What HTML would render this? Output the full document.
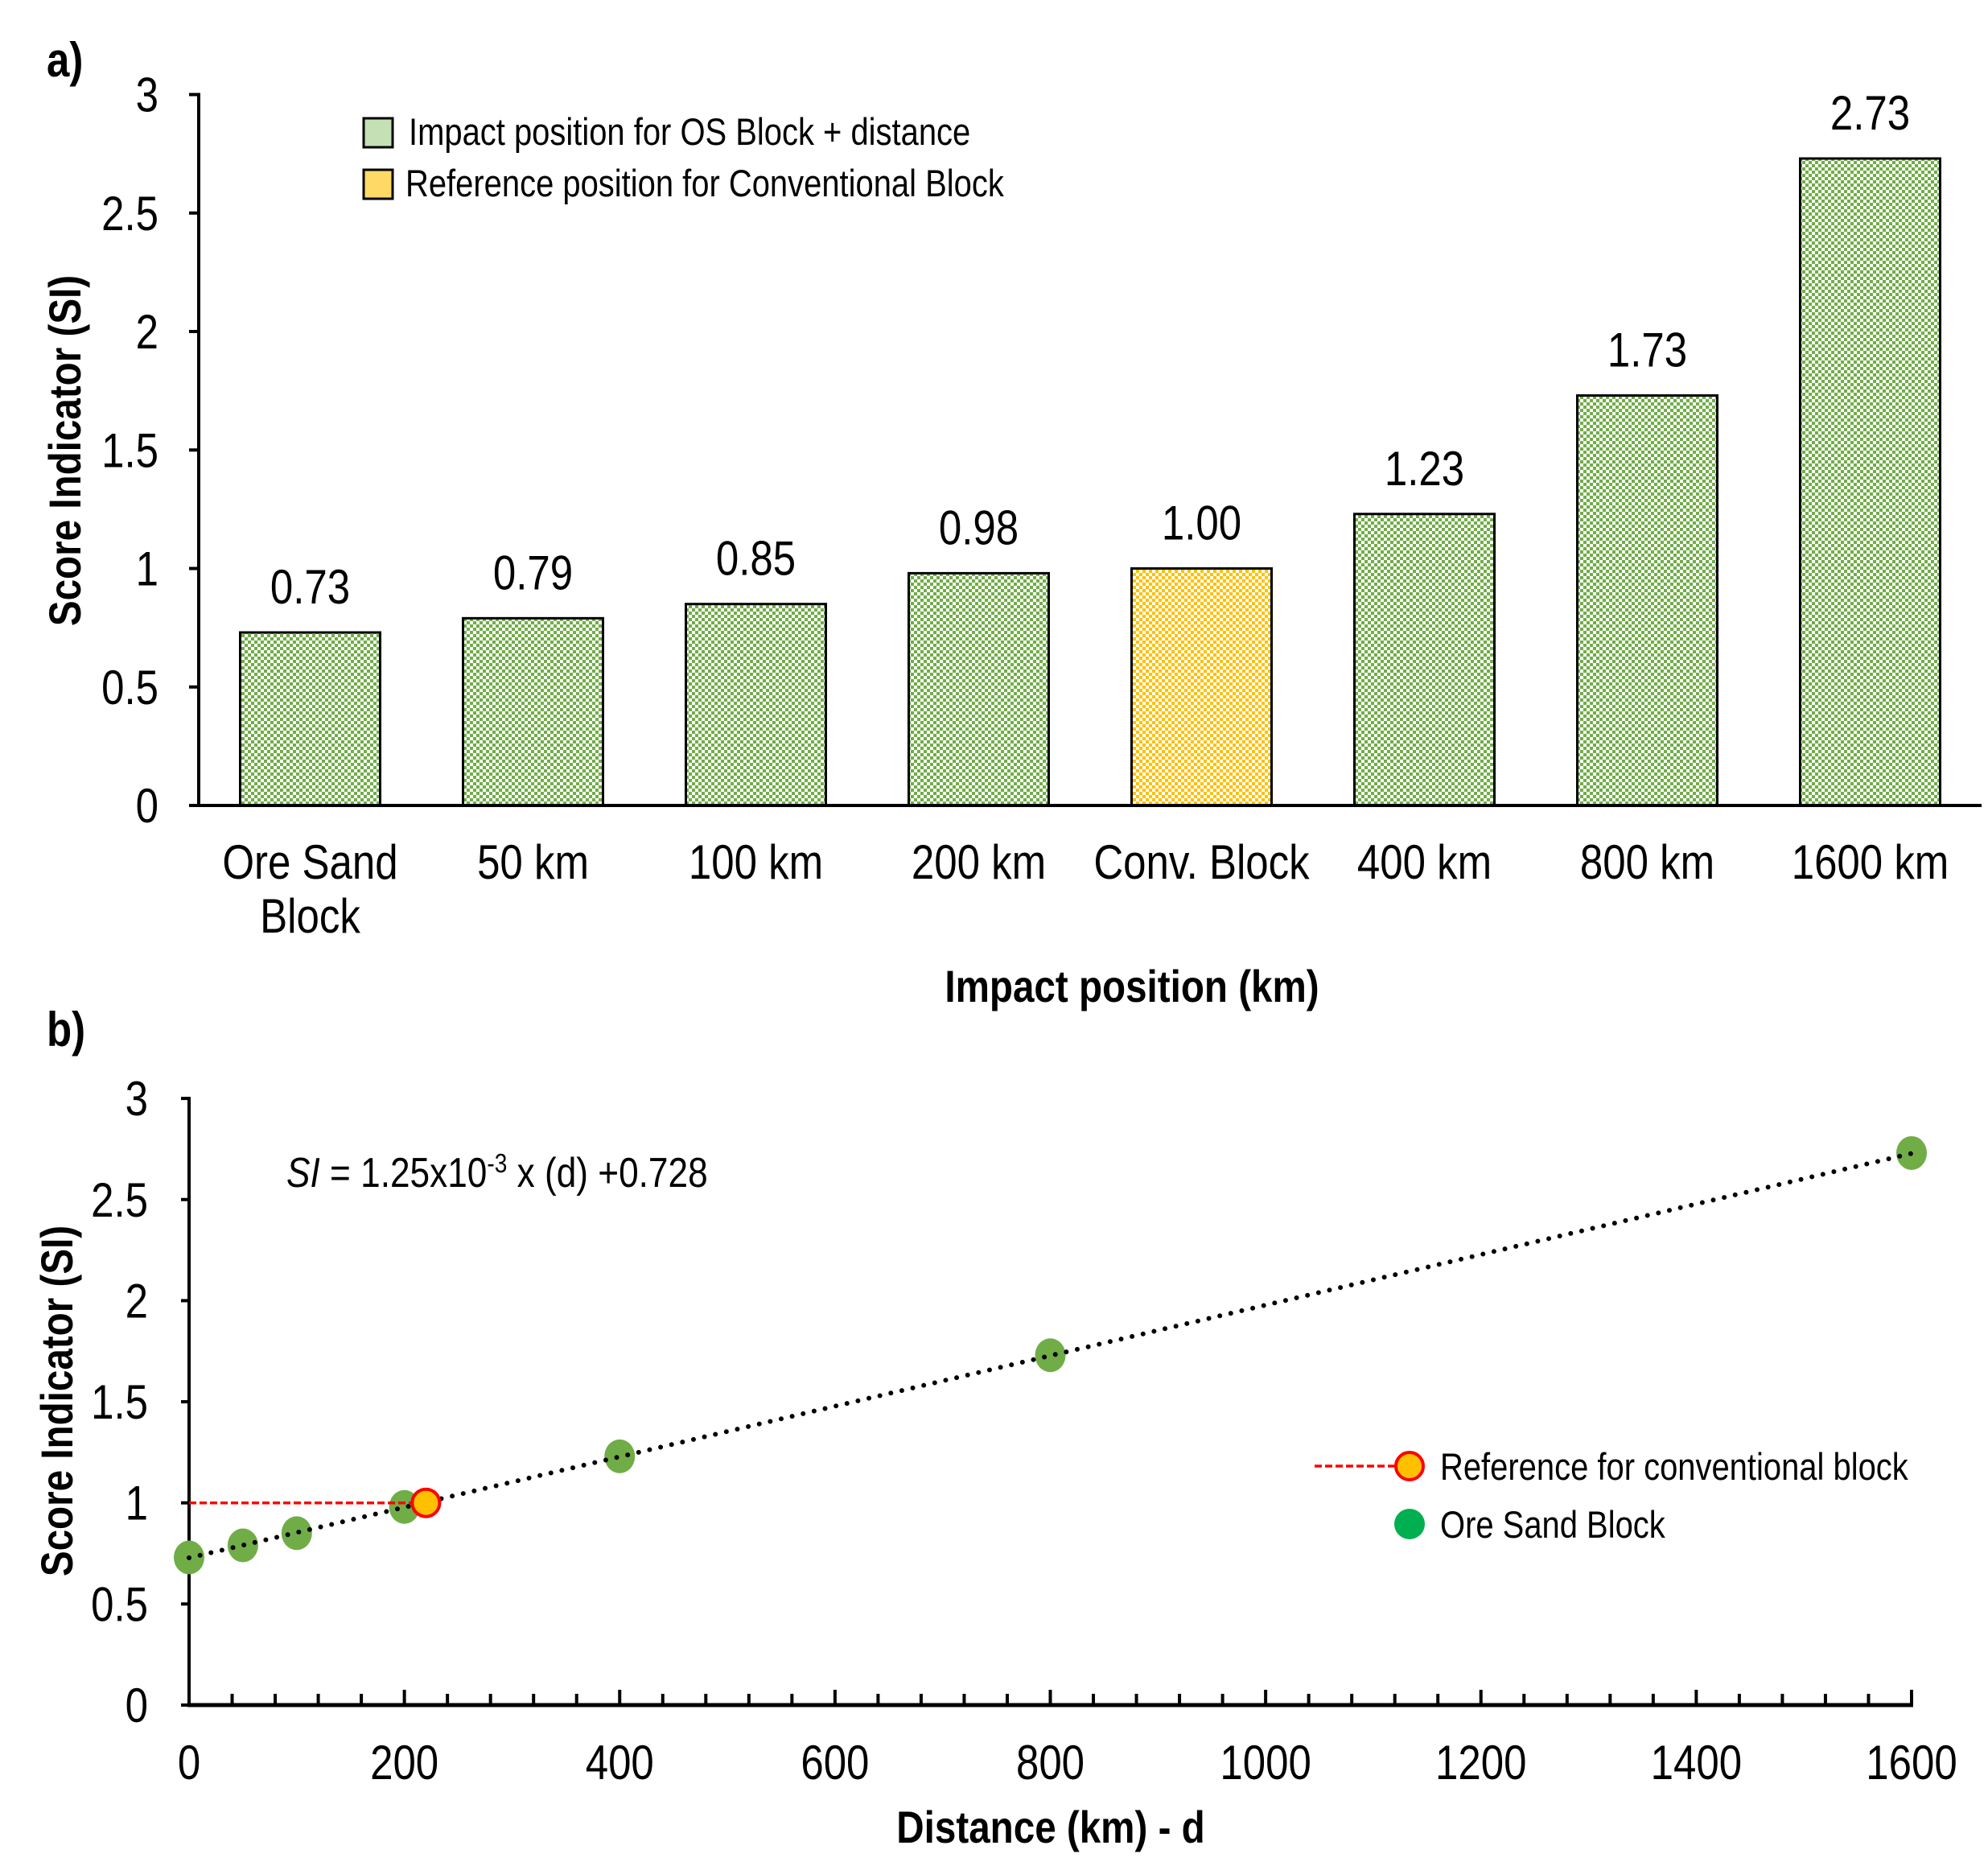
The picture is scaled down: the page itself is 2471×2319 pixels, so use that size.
<!DOCTYPE html>
<html><head><meta charset="utf-8"><style>
html,body{margin:0;padding:0;background:#fff;}
svg{display:block;font-family:"Liberation Sans Narrow","Liberation Sans",sans-serif;}
</style></head><body>
<svg id="chart" xmlns="http://www.w3.org/2000/svg" width="2471" height="2319" viewBox="0 0 2471 2319">
<defs>
<pattern id="pg" width="8" height="8" patternUnits="userSpaceOnUse"><rect width="8" height="8" fill="#fff"/><rect x="0" y="0" width="4" height="4" fill="#70ad47" shape-rendering="crispEdges"/><rect x="4" y="4" width="4" height="4" fill="#70ad47" shape-rendering="crispEdges"/></pattern>
<pattern id="py" width="8" height="8" patternUnits="userSpaceOnUse"><rect width="8" height="8" fill="#fff"/><rect x="0" y="0" width="4" height="4" fill="#ffc000" shape-rendering="crispEdges"/><rect x="4" y="4" width="4" height="4" fill="#ffc000" shape-rendering="crispEdges"/></pattern>
</defs>
<g id="topchart"></g>
<g id="bottomchart"></g>
</svg>
<script>
const categories=["Ore Sand|Block","50 km","100 km","200 km","Conv. Block","400 km","800 km","1600 km"];
const barValues=[0.73,0.79,0.85,0.98,1.00,1.23,1.73,2.73];
const barLabels=["0.73","0.79","0.85","0.98","1.00","1.23","1.73","2.73"];
const barIsRef=[false,false,false,false,true,false,false,false];
const yTicksTop=[0,0.5,1,1.5,2,2.5,3];
const yTickLabels=["0","0.5","1","1.5","2","2.5","3"];
const distances=[0,50,100,200,400,800,1600];
const scores=[0.73,0.79,0.85,0.98,1.23,1.73,2.73];
const refDistance=[220];
const refScore=[1.0];
const xTicksBottom=[0,200,400,600,800,1000,1200,1400,1600];
const trendSlope=[0.00125];
const trendIntercept=[0.728];

const NS="http://www.w3.org/2000/svg";
const SX=0.85;
function mk(parent,tag,attrs,text){const e=document.createElementNS(NS,tag);for(const k in attrs)e.setAttribute(k,attrs[k]);if(text!==undefined)e.textContent=text;parent.appendChild(e);return e;}
function txt(parent,x,y,attrs,text,rot){const a=Object.assign({x:0,y:0},attrs);a.transform='translate('+x+','+y+')'+(rot?' rotate('+rot+')':'')+' scale('+SX+',1)';return mk(parent,'text',a,text);}
const topG=document.getElementById('topchart'),botG=document.getElementById('bottomchart');

// ---- top chart ----
const tx0=247,ty0=1001,tUnit=294.5,catW=277,barW=174;
const yT=v=>ty0-v*tUnit;
const xC=i=>tx0+catW*(i+0.5);
let t=txt(topG,58,95,{'font-size':60,'font-weight':'bold'},'a)');

barValues.forEach((v,i)=>{
 const r=mk(topG,'rect',{x:xC(i)-barW/2,y:yT(v),width:barW,height:ty0-yT(v),fill:barIsRef[i]?'url(#py)':'url(#pg)',stroke:'#000','stroke-width':3});
 
 const l=txt(topG,xC(i),yT(v)-36,{'font-size':60,'text-anchor':'middle'},barLabels[i]);
 
 const parts=categories[i].split('|');
 parts.forEach((p,j)=>{const c=txt(topG,xC(i),1092+j*67,{'font-size':60,'text-anchor':'middle'},p);
 });
});
yTicksTop.forEach((v,i)=>{
 mk(topG,'line',{x1:tx0-12,x2:tx0,y1:yT(v),y2:yT(v),stroke:'#000','stroke-width':4});
 const l=txt(topG,197,yT(v)+21,{'font-size':60,'text-anchor':'end'},yTickLabels[i]);
 
});
let ax=mk(topG,'line',{x1:tx0,x2:tx0,y1:yT(3)-2,y2:ty0+2,stroke:'#000','stroke-width':4});

ax=mk(topG,'line',{x1:tx0-2,x2:2463,y1:ty0,y2:ty0,stroke:'#000','stroke-width':4});

t=txt(topG,100,560,{'font-size':56,'font-weight':'bold','text-anchor':'middle'},'Score Indicator (SI)',-90);

t=txt(topG,1407,1245,{'font-size':56,'font-weight':'bold','text-anchor':'middle'},'Impact position (km)');

let lg=mk(topG,'g',{});
mk(lg,'rect',{x:452,y:147,width:36,height:36,fill:'#c5e0b4',stroke:'#000','stroke-width':3});
t=txt(lg,508,180,{'font-size':47},'Impact position for OS Block + distance');

mk(lg,'rect',{x:452,y:211,width:36,height:36,fill:'#ffd966',stroke:'#000','stroke-width':3});
t=txt(lg,504,244,{'font-size':47},'Reference position for Conventional Block');


// ---- bottom chart ----
const bx0=235,by0=2119,bUnit=251.3,pxKm=(2376-235)/1600;
const xB=d=>bx0+d*pxKm, yB=v=>by0-v*bUnit;
t=txt(botG,58,1300,{'font-size':60,'font-weight':'bold'},'b)');

yTicksTop.forEach((v,i)=>{
 mk(botG,'line',{x1:bx0-10,x2:bx0,y1:yB(v),y2:yB(v),stroke:'#000','stroke-width':4});
 const l=txt(botG,184,yB(v)+21,{'font-size':60,'text-anchor':'end'},yTickLabels[i]);
 
});
for(let d=40;d<=1600;d+=40){mk(botG,'line',{x1:xB(d),x2:xB(d),y1:by0-(d%200===0?19:14),y2:by0,stroke:'#000','stroke-width':4});}
xTicksBottom.forEach(d=>{const l=txt(botG,xB(d),2211,{'font-size':60,'text-anchor':'middle'},String(d));
 });
ax=mk(botG,'line',{x1:bx0,x2:bx0,y1:yB(3)-2,y2:by0+2,stroke:'#000','stroke-width':4});

ax=mk(botG,'line',{x1:bx0-2,x2:xB(1600)+2,y1:by0,y2:by0,stroke:'#000','stroke-width':5});

t=txt(botG,90,1741,{'font-size':56,'font-weight':'bold','text-anchor':'middle'},'Score Indicator (SI)',-90);

t=txt(botG,1306,2290,{'font-size':56,'font-weight':'bold','text-anchor':'middle'},'Distance (km) - d');

t=txt(botG,356,1475,{'font-size':52},undefined);

mk(t,'tspan',{'font-style':'italic'},'SI');mk(t,'tspan',{},' = 1.25x10');mk(t,'tspan',{dy:-18,'font-size':33},'-3');mk(t,'tspan',{dy:18},' x (d) +0.728');
distances.forEach((d,i)=>{const c=mk(botG,'ellipse',{cx:xB(d),cy:yB(scores[i]),rx:19,ry:21,fill:'#70ad47'});
 });
let tl=mk(botG,'line',{x1:xB(0),y1:yB(trendIntercept[0]),x2:xB(1600),y2:yB(trendIntercept[0]+trendSlope[0]*1600),stroke:'#000','stroke-width':6,'stroke-dasharray':'0 14','stroke-linecap':'round'});

let rl=mk(botG,'line',{x1:bx0,x2:xB(refDistance[0]),y1:yB(refScore[0]),y2:yB(refScore[0]),stroke:'#ff0000','stroke-width':3.5,'stroke-dasharray':'9 4'});

let rp=mk(botG,'circle',{cx:xB(refDistance[0]),cy:yB(refScore[0]),r:17,fill:'#ffc000',stroke:'#ff0000','stroke-width':4});

lg=mk(botG,'g',{});
mk(lg,'line',{x1:1634,x2:1740,y1:1822,y2:1822,stroke:'#ff0000','stroke-width':3.5,'stroke-dasharray':'9 4'});
mk(lg,'circle',{cx:1752,cy:1822,r:17,fill:'#ffc000',stroke:'#ff0000','stroke-width':4});
t=txt(lg,1790,1839,{'font-size':47},'Reference for conventional block');

mk(lg,'circle',{cx:1752,cy:1894,r:19,fill:'#00b050'});
t=txt(lg,1790,1911,{'font-size':47},'Ore Sand Block');

</script>
</body></html>
